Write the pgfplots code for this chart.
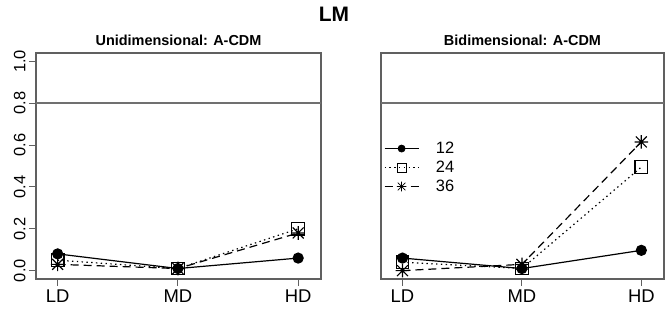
\documentclass[border=0pt]{standalone}
\usepackage{pgfplots}
\pgfplotsset{compat=1.18}
\usepackage{fontspec}
\setmainfont{Liberation Sans}
\pgfdeclareplotmark{rast}{%
  \pgfpathmoveto{\pgfqpoint{-\pgfplotmarksize}{0pt}}\pgfpathlineto{\pgfqpoint{\pgfplotmarksize}{0pt}}%
  \pgfpathmoveto{\pgfqpoint{0pt}{-\pgfplotmarksize}}\pgfpathlineto{\pgfqpoint{0pt}{\pgfplotmarksize}}%
  \pgfpathmoveto{\pgfqpoint{-0.8\pgfplotmarksize}{-0.8\pgfplotmarksize}}\pgfpathlineto{\pgfqpoint{0.8\pgfplotmarksize}{0.8\pgfplotmarksize}}%
  \pgfpathmoveto{\pgfqpoint{-0.8\pgfplotmarksize}{0.8\pgfplotmarksize}}\pgfpathlineto{\pgfqpoint{0.8\pgfplotmarksize}{-0.8\pgfplotmarksize}}%
  \pgfusepathqstroke}
\definecolor{boxgray}{HTML}{606060}
\definecolor{refgray}{HTML}{707070}
\pgfplotsset{
  rpanel/.style={
    scale only axis, height=226bp,
    xmin=0.82, xmax=3.19, ymin=-0.04, ymax=1.04,
    xtick={1,2,3}, xticklabels={LD,MD,HD},
    xtick pos=lower, ytick pos=left,
    tick align=outside, major tick length=7bp,
    axis line style={boxgray, line width=1.1bp},
    every tick/.style={boxgray, line width=1.1bp},
    xticklabel style={font=\fontsize{18.5}{18.5}\selectfont, text depth=0pt},
    yticklabel style={font=\fontsize{16.5}{16.5}\selectfont, rotate=90, anchor=south},
    title style={font=\bfseries\fontsize{14.5}{15}\selectfont, yshift=-2bp},
    clip=false,
    legend image code/.code={%
      \draw[mark repeat=2,mark phase=2,##1] plot coordinates {(0bp,0bp) (17bp,0bp) (34bp,0bp)};},
  },
  s12/.style={black, line width=1.2bp, mark=*, mark size=5bp, mark options={solid}},
  s24/.style={black, line width=1.2bp, dash pattern=on 1.4bp off 3.4bp, mark=square, mark size=6.3bp, mark options={solid}},
  s36/.style={black, line width=1.2bp, dash pattern=on 8bp off 5bp, mark=rast, mark size=6.8bp, mark options={solid}},
}
\begin{document}
\begin{tikzpicture}[x=1bp,y=1bp]
\path[use as bounding box] (0,0) rectangle (669,312);
\node[font=\bfseries\fontsize{21}{21}\selectfont, anchor=base] at (334,291) {LM};
\begin{axis}[rpanel, width=285bp, anchor=south west, at={(36bp,33bp)},
  title={Unidimensional: A-CDM},
  ytick={0,0.2,0.4,0.6,0.8,1}, yticklabels={0.0,0.2,0.4,0.6,0.8,1.0}]
\draw[refgray, line width=2bp] (axis cs:0.82,0.8) -- (axis cs:3.19,0.8);
\addplot[s12] coordinates {(1,0.08) (2,0.01) (3,0.06)};
\addplot[s24] coordinates {(1,0.05) (2,0.01) (3,0.20)};
\addplot[s36] coordinates {(1,0.03) (2,0.01) (3,0.18)};
\end{axis}
\begin{axis}[rpanel, width=283bp, anchor=south west, at={(381bp,33bp)},
  title={Bidimensional: A-CDM}, ytick=\empty,
  legend style={draw=none, fill=none, at={(0.0,0.62)}, anchor=north west,
    font=\fontsize{16.5}{19}\selectfont, row sep=4bp,
    nodes={inner sep=1bp}},
  legend image post style={line width=0.8bp, mark options={solid, scale=0.7}},
  legend cell align=left]
\draw[refgray, line width=2bp] (axis cs:0.82,0.8) -- (axis cs:3.19,0.8);
\addplot[s12] coordinates {(1,0.06) (2,0.01) (3,0.097)};
\addlegendentry{\hspace{16bp}12}
\addplot[s24] coordinates {(1,0.04) (2,0.01) (3,0.495)};
\addlegendentry{\hspace{16bp}24}
\addplot[s36] coordinates {(1,0.00) (2,0.03) (3,0.615)};
\addlegendentry{\hspace{16bp}36}
\end{axis}
\end{tikzpicture}
\end{document}
